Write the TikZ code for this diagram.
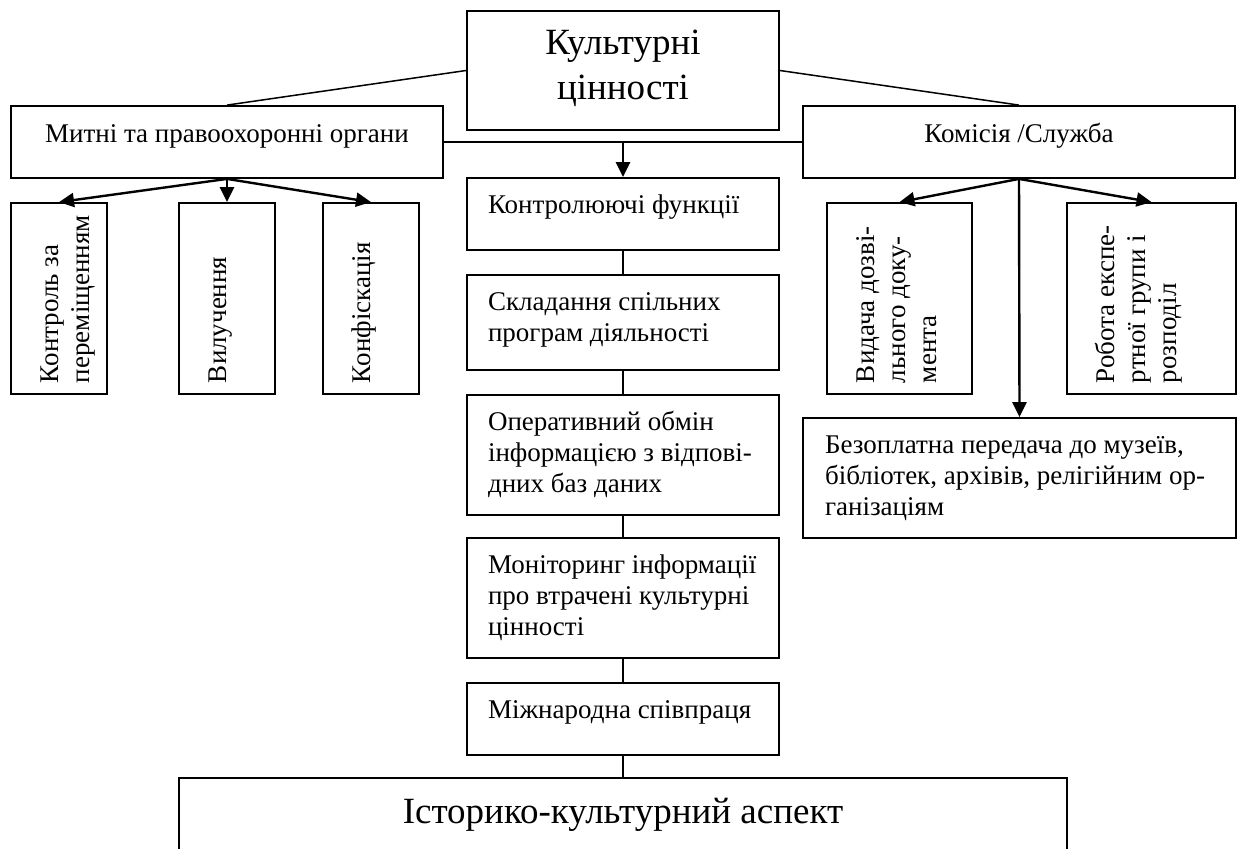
\documentclass[tikz,border=0pt]{standalone}
\usepackage{fontspec}
\setmainfont{Liberation Serif}
\usetikzlibrary{arrows.meta}
\newcommand{\boxtext}[4]{\parbox[c][#1][t]{#2}{\vspace*{#3}#4}}
\tikzset{
  blk/.style={draw, line width=1.8pt, inner sep=0pt},
  lnk/.style={line width=1.5pt},
  arr/.style={line width=2.4pt, -{Triangle[length=15pt,width=14pt]}},
}
\begin{document}
\begin{tikzpicture}[x=1pt, y=-1pt, font=\fontsize{27}{31}\selectfont, line join=miter]
            \def\bigfont{\fontsize{37}{45}\selectfont}
            \useasboundingbox (0,0) rectangle (1238,848);
            \node[blk, minimum width=312pt, minimum height=119pt] (cult) at (623,70.5) {\boxtext{119pt}{290pt}{12.5pt}{\bigfont\centering\strut Культурні\\цінності}};
            \node[blk, minimum width=432pt, minimum height=72pt] (mytni) at (227,142) {\boxtext{72pt}{400pt}{14.3pt}{\centering\strut Митні та правоохоронні органи}};
            \node[blk, minimum width=432pt, minimum height=72pt] (komisia) at (1019,142) {\boxtext{72pt}{400pt}{14.3pt}{\centering\strut Комісія /Служба}};
            \node[blk, rotate=90, minimum width=191pt, minimum height=96pt] (s1) at (59,298.5) {\boxtext{96pt}{169pt}{25.3pt}{\raggedright\strut Контроль за\\переміщенням}};
            \node[blk, rotate=90, minimum width=191pt, minimum height=96pt] (s2) at (227,298.5) {\boxtext{96pt}{169pt}{25.3pt}{\raggedright\strut Вилучення}};
            \node[blk, rotate=90, minimum width=191pt, minimum height=96pt] (s3) at (371,298.5) {\boxtext{96pt}{169pt}{25.3pt}{\raggedright\strut Конфіскація}};
            \node[blk, rotate=90, minimum width=191pt, minimum height=145pt] (r1) at (899.5,298.5) {\boxtext{145pt}{169pt}{25.3pt}{\raggedright\strut Видача дозві-\\льного доку-\\мента}};
            \node[blk, rotate=90, minimum width=191pt, minimum height=169pt] (r2) at (1151.5,298.5) {\boxtext{169pt}{169pt}{25.3pt}{\raggedright\strut Робота експе-\\ртної групи і\\розподіл}};
            \node[blk, minimum width=312pt, minimum height=72pt] (c1) at (623,214) {\boxtext{72pt}{270pt}{13.3pt}{\raggedright\strut Контролюючі функції}};
            \node[blk, minimum width=312pt, minimum height=95pt] (c2) at (623,322.5) {\boxtext{95pt}{270pt}{13.3pt}{\raggedright\strut Складання спільних\\програм діяльності}};
            \node[blk, minimum width=312pt, minimum height=120pt] (c3) at (623,455) {\boxtext{120pt}{270pt}{13.3pt}{\raggedright\strut Оперативний обмін\\інформацією з відпові-\\дних баз даних}};
            \node[blk, minimum width=312pt, minimum height=120pt] (c4) at (623,598) {\boxtext{120pt}{270pt}{13.3pt}{\raggedright\strut Моніторинг інформації\\про втрачені культурні\\цінності}};
            \node[blk, minimum width=312pt, minimum height=72pt] (c5) at (623,719) {\boxtext{72pt}{270pt}{13.3pt}{\raggedright\strut Міжнародна співпраця}};
            \node[blk, minimum width=433pt, minimum height=120pt] (bezo) at (1019.5,478) {\boxtext{120pt}{389pt}{13.3pt}{\raggedright\strut Безоплатна передача до музеїв,\\бібліотек, архівів, релігійним ор-\\ганізаціям}};
            \node[blk, minimum width=888pt, minimum height=100pt] (hist) at (623,828) {\boxtext{100pt}{860pt}{13.5pt}{\bigfont\centering\strut Історико-культурний аспект}};
            \draw[lnk] (cult.west) -- (mytni.north);
            \draw[lnk] (cult.east) -- (komisia.north);
            \draw[line width=2.2pt] (mytni.east) -- (komisia.west);
            \coordinate (hub) at (mytni.east -| c1.north);
            \draw[arr] (hub) -- (c1.north);
            \foreach \t in {s1,s2,s3} \draw[arr] (mytni.south) -- (\t.east);
            \foreach \t in {r1,r2} \draw[arr] (komisia.south) -- (\t.east);
            \draw[arr] (komisia.south) -- (bezo.north);
            \foreach \a/\b in {c1/c2,c2/c3,c3/c4,c4/c5,c5/hist} \draw[lnk] (\a) -- (\b);
    \end{tikzpicture}
\end{document}
